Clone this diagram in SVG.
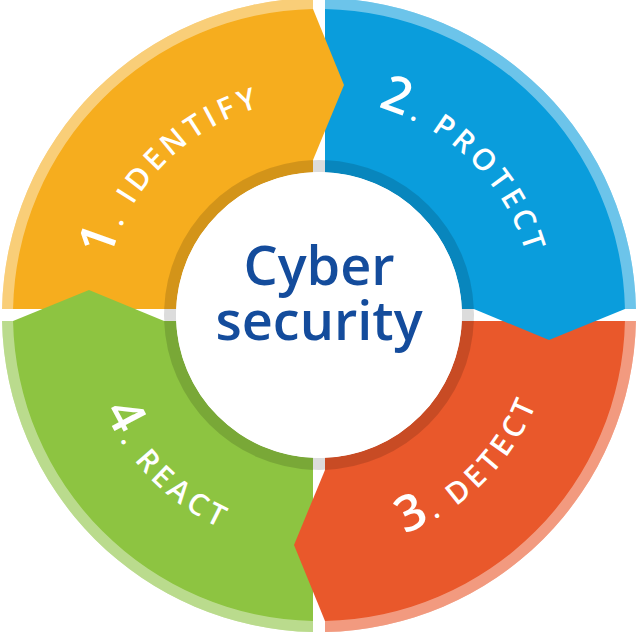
<svg xmlns="http://www.w3.org/2000/svg" xmlns:xlink="http://www.w3.org/1999/xlink" width="640" height="640" viewBox="0 0 640 640">
<style>
.light{fill:#ffffff;fill-opacity:0.4}
.dark{fill:#000000;fill-opacity:0.14}
.lbl{font-family:"Open Sans","Liberation Sans",sans-serif;font-size:30px;font-weight:600;fill:#ffffff;letter-spacing:4.5px}
.num{font-size:50px}
.ctr{font-family:"Open Sans","Liberation Sans",sans-serif;font-size:54px;font-weight:600;fill:#144c9c;text-anchor:middle}
</style>
<defs>
<path id="sector" d="M -316.94 -6 A 317 317 0 0 1 -6 -316.94 L -6 -142.87 A 143 143 0 0 0 -142.87 -6 Z"/>
<path id="lightband" d="M -316.94 -6 A 317 317 0 0 1 -6 -316.94 L -6 -305.94 A 306 306 0 0 0 -305.94 -6 Z"/>
<path id="darkband" d="M -154.88 -6 A 155 155 0 0 1 -6 -154.88 L -6 -142.87 A 143 143 0 0 0 -142.87 -6 Z"/>
<polygon id="chev" points="-6,-305.94 25,-230 -6,-154.88"/>
<path id="arcTop" d="M 103 315 A 216 216 0 0 1 535 315"/>
<path id="arcBot" d="M 84 315 A 235 235 0 0 0 554 315"/>
</defs>
<rect width="640" height="640" fill="#ffffff"/>
<circle cx="319" cy="315" r="149" fill="none" stroke="#dcdcdc" stroke-width="12"/>
<g id="seg-identify" transform="translate(319 315)">
<use href="#sector" fill="#f6ad1e"/>
<use href="#lightband" class="light"/>
<use href="#darkband" class="dark"/>
</g>
<g id="seg-protect" transform="translate(319 315) rotate(90)">
<use href="#sector" fill="#0a9ddc"/>
<use href="#lightband" class="light"/>
<use href="#darkband" class="dark"/>
</g>
<g id="seg-detect" transform="translate(319 315) rotate(180)">
<use href="#sector" fill="#e9582b"/>
<use href="#lightband" class="light"/>
<use href="#darkband" class="dark"/>
</g>
<g id="seg-react" transform="translate(319 315) rotate(270)">
<use href="#sector" fill="#8dc441"/>
<use href="#lightband" class="light"/>
<use href="#darkband" class="dark"/>
</g>
<g id="connectors">
<use href="#chev" fill="#f6ad1e" transform="translate(319 315)"/>
<use href="#chev" fill="#0a9ddc" transform="translate(319 315) rotate(90)"/>
<use href="#chev" fill="#e9582b" transform="translate(319 315) rotate(180)"/>
<use href="#chev" fill="#8dc441" transform="translate(319 315) rotate(270)"/>
</g>
<g id="labels">
<text class="lbl"><textPath href="#arcTop" startOffset="25%" text-anchor="middle"><tspan class="num">1</tspan>. IDENTIFY</textPath></text>
<text class="lbl"><textPath href="#arcTop" startOffset="75%" text-anchor="middle"><tspan class="num">2</tspan>. PROTECT</textPath></text>
<text class="lbl"><textPath href="#arcBot" startOffset="75%" text-anchor="middle"><tspan class="num">3</tspan>. DETECT</textPath></text>
<text class="lbl"><textPath href="#arcBot" startOffset="25%" text-anchor="middle"><tspan class="num">4</tspan>. REACT</textPath></text>
</g>
<g id="center">
<circle cx="319" cy="315" r="143" fill="#ffffff"/>
<text class="ctr" x="319" y="285">Cyber</text>
<text class="ctr" x="319" y="340">security</text>
</g>
</svg>
